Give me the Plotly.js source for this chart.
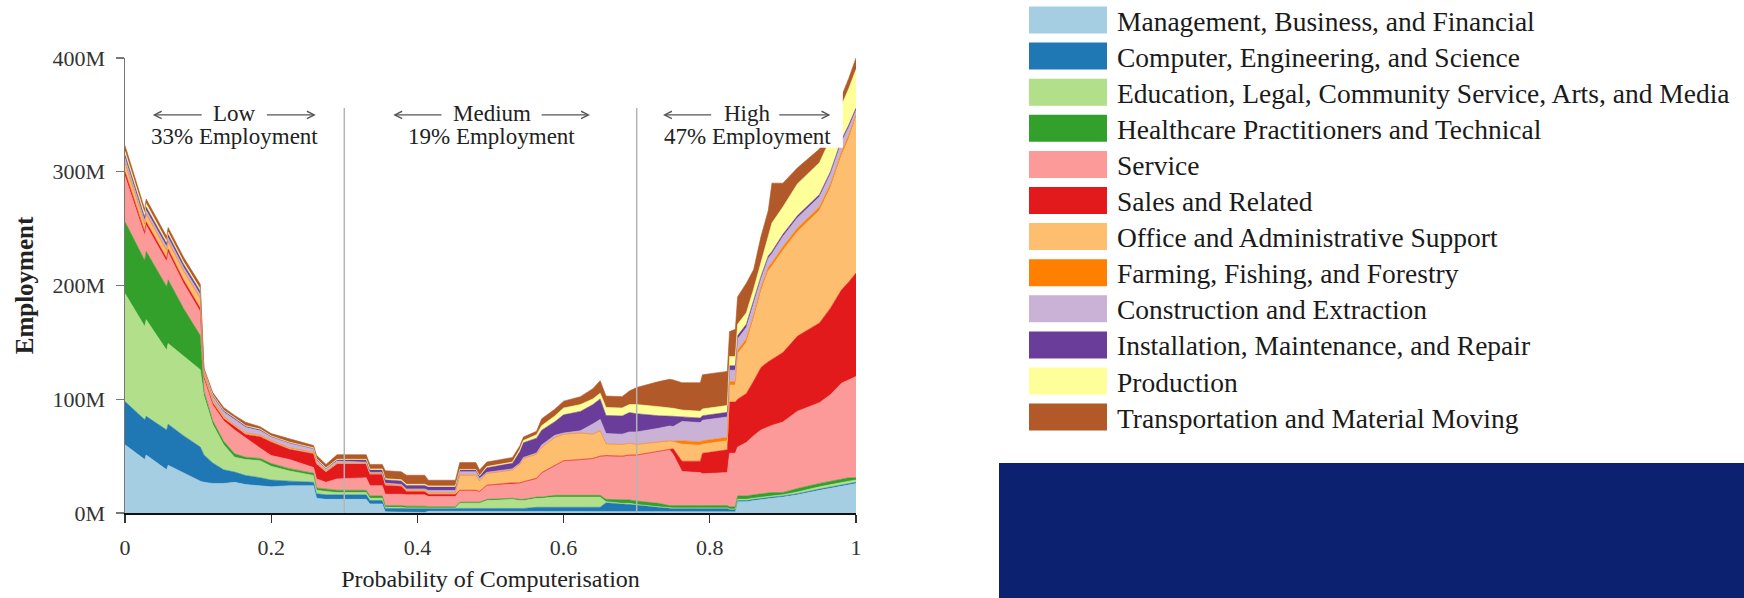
<!DOCTYPE html>
<html><head><meta charset="utf-8">
<script src="https://cdn.plot.ly/plotly-3.0.1.min.js"></script>
<style>html,body{margin:0;padding:0;background:#fff;}#chart{width:1744px;height:598px;}</style>
</head><body><div id="chart"></div>
<script>
// ---------------- DATA ----------------
const categories = [
  "Management, Business, and Financial",
  "Computer, Engineering, and Science",
  "Education, Legal, Community Service, Arts, and Media",
  "Healthcare Practitioners and Technical",
  "Service",
  "Sales and Related",
  "Office and Administrative Support",
  "Farming, Fishing, and Forestry",
  "Construction and Extraction",
  "Installation, Maintenance, and Repair",
  "Production",
  "Transportation and Material Moving"
];
const colors = ["#a6cee3","#1f78b4","#b2df8a","#33a02c","#fb9a99","#e31a1c",
                "#fdbf6f","#ff7f00","#cab2d6","#6a3d9a","#ffff99","#b15928"];

const probability = [0.000,0.027,0.029,0.057,0.059,0.080,0.103,0.108,0.120,0.135,0.150,0.165,0.185,0.200,0.225,0.258,0.262,0.275,0.290,0.330,0.335,0.352,0.356,0.378,0.385,0.410,0.415,0.452,0.458,0.480,0.485,0.495,0.530,0.540,0.545,0.563,0.570,0.588,0.600,0.623,0.640,0.650,0.658,0.680,0.690,0.700,0.730,0.745,0.750,0.762,0.787,0.790,0.824,0.827,0.835,0.838,0.850,0.860,0.870,0.880,0.885,0.900,0.920,0.950,0.965,0.980,0.990,1.000];

// employment in millions for each occupation group (stacked)
const management   = [60,47,51,38,42,35,28,27,26,26,27,25,24,23,24,24,13,12,12,12,8,8,1,1,0.5,0.5,1.5,1.5,1,1,1,1,1,1,1,1,1,1,1,1,1,1,1,1,1,1,1,1,1,1,1,1,1,1,1,10,10,11,12,13,13,14,16,20,22,24,25,26];
const computer     = [38,35,34,35,36,33,30,24,18,12,9,8,7,6,4,3,4,4,4,4,3,3,3,3,3,3,2,2,2.5,2.5,2.5,3,3,3,3,4,4,4,4,4,4,4,8,7,7,6,4,3,3,3,3,3,3,2,2,1,1,1,1,1,1,1,1,1,1,1,1,1];
const education    = [95,82,85,70,71,70,68,52,34,22,13,14,15,12,9,6,3,3,2,2,2,2,1,1,1,1,1,1,5,5,5,7,8,7,7,8,8,9,9,9,9,9,1,0.5,0.5,0.5,0.5,0.5,0.5,0.5,0.5,0.5,0.5,0.5,0.5,1,1,1,1,1,1,1,1.5,2,2,2,2,2];
const healthcare   = [63,58,60,56,56,42,30,4,3,3,3,2,2,2.5,2,2,2,2,2,2,2,2,1.5,1.5,1.5,1.5,1,1,1,1,1,1,1,1,1,1,1,1.5,1.5,1.5,1.5,1.5,2,3,3,3,3,2,2,2,2,2,2,2,2,3,3,3,3,3,3,2,3,3,3,3,3,2];
const service      = [40,22,23,22,24,22,21,11,14,18,21,17,9,7,8,5,8,6,10,11,9,9,10,10,10,10,9,9,10,10,9,12,13,14,15,16,21,26,30,31,32,34,38,38,39,40,45,49,45,30,29,28,29,47,47,43,47,52,56,58,59,62,68,71,76,84,86,89];
const sales        = [4,3,3,3,3,3,3,2,2,2,3,3,10,12,9,12,13,9,13,12,10,10,8,7,3,3,2,2,0.5,0.5,0.5,0.5,0.5,0.5,0.5,0.5,0.5,0.5,0.5,0.5,0.5,0.5,0.5,0.5,0.5,0.5,0.5,0.5,5,9,10,18,20,45,45,42,43,48,55,57,58,61,66,70,76,82,86,91];
const office       = [7,6,6,6,6,7,8,2,2,1.5,1,1,1,1,1,1,0.5,0.5,0.5,0.5,0.5,0.5,0.5,0.5,1,1,1,1,13,13,9,10,11,16,20,21,22,24,23,23,21,22,10,10,10,9,8,7,6,15,14,8,8,15,15,40,45,55,67,80,82,90,92,99,106,118,126,137];
const farming      = [1,1,1,1,1,1,1,0.5,0.5,0.3,0.3,0.3,0.3,0.3,0.3,0.3,0.2,0.2,0.2,0.2,0.2,0.2,0.2,0.2,0.2,0.2,0.3,0.3,0.3,0.3,0.3,0.3,0.3,0.3,0.3,0.3,0.3,0.3,0.3,0.3,0.3,0.3,0.3,0.3,0.3,0.3,0.5,0.5,0.5,3,3,3,3,3,3,3,3,3,3,3,3,3,3,3,3,3,3,2];
const construction = [4,3,3,3,3,3,3,2,3,4,5,5,4,3,4,3,3,2,2,1,1,1,1,1,1,1,2,2,3,3,2,1,1,1,1,1,2,2,1,2,9,10,9,9,10,11,12,13,13,17,17,18,18,10,10,10,10,10,8,8,8,9,9,9,9,9,7,4];
const installation = [3,3,3,3,3,3,3,1,1,1,1,1,1,0.5,0.5,0.5,0.5,0.5,1,2,2,2,3,3,3,3,3,3,1.5,1.5,2,4,5,10,13,13,13,12,16,17,17,18,16,16,17,16,11,9,9,4,4,4,4,4,4,3,3,3,2,2,2,2,2,2,2,2,2,2];
const production   = [3,3,3,2,2,2,2,0.5,0.5,0.5,0.5,0.5,0.5,0.5,0.5,0.5,0.5,0.5,0.5,0.5,1,1,1,1,1,1,1,1,0.5,0.5,0.5,1,1,2,2,3,4,5,6,6,5,5,7,7,7,8,8,7,7,6,6,6,6,8,8,10,10,10,12,18,25,24,28,28,29,30,32,34];
const transport    = [5,4,4,4,4,4,4,1.5,2,2.5,2,3,2,2,3,2,3,3,4,4,4,4,7,7,8,8,5,5,6,6,5,4,4,3,3,3,6,6,6,7,9,11,10,10,12,15,22,25,25,24,25,30,30,22,24,24,26,17,23,22,35,21,14,12,10,8,9,10];

const series = [management, computer, education, healthcare, service, sales,
                office, farming, construction, installation, production, transport];

const xTicks = [0, 0.2, 0.4, 0.6, 0.8, 1];
const xTickText = ["0", "0.2", "0.4", "0.6", "0.8", "1"];
const yTicks = [0, 100, 200, 300, 400];
const yTickText = ["0M", "100M", "200M", "300M", "400M"];

const bands = [
  {label: "Low", share: "33% Employment", center: 0.150, arrowL: [0.038, 0.107], arrowR: [0.192, 0.261]},
  {label: "Medium", share: "19% Employment", center: 0.502, arrowL: [0.367, 0.435], arrowR: [0.568, 0.636]},
  {label: "High", share: "47% Employment", center: 0.851, arrowL: [0.736, 0.804], arrowR: [0.893, 0.965]}
];
const boundaries = [0.3, 0.7];

// ---------------- BUILD ----------------
const FONT = "Liberation Serif, 'Times New Roman', Times, serif";
const W = 1744, H = 598;
const M = {l: 125, r: 888, t: 58, b: 85};
const plotW = W - M.l - M.r, plotH = H - M.t - M.b;
const px2x = p => (p - M.l) / plotW;
const py2y = p => (H - M.b - p) / plotH;

const traces = categories.map((name, i) => ({
  type: "scatter", mode: "lines", x: probability, y: series[i], name: name,
  stackgroup: "one", line: {width: 0.6, color: colors[i]}, fillcolor: colors[i],
  hoverinfo: "skip", showlegend: false
}));

const shapes = [];
const annotations = [];

// white box behind the High label
shapes.push({type: "rect", xref: "x", yref: "y", x0: 0.74, x1: 0.982, y0: 321, y1: 372,
  fillcolor: "#ffffff", line: {width: 0}, layer: "above"});
boundaries.forEach(b => shapes.push({type: "line", xref: "x", yref: "y", x0: b, x1: b, y0: 0, y1: 356,
  line: {color: "#b4b4b4", width: 1.5}, layer: "above"}));

const arrowY = 350;
bands.forEach(bd => {
  annotations.push({xref: "x", yref: "y", x: bd.center, y: arrowY + 1, text: bd.label, showarrow: false,
    font: {family: FONT, size: 23, color: "#222"}});
  annotations.push({xref: "x", yref: "y", x: bd.center, y: 331, text: bd.share, showarrow: false,
    font: {family: FONT, size: 23, color: "#222"}});
  annotations.push({xref: "x", yref: "y", axref: "x", ayref: "y", x: bd.arrowL[0], y: arrowY,
    ax: bd.arrowL[1], ay: arrowY, text: "", showarrow: true, arrowhead: 5, arrowsize: 1.1,
    arrowwidth: 1.3, arrowcolor: "#555"});
  annotations.push({xref: "x", yref: "y", axref: "x", ayref: "y", x: bd.arrowR[1], y: arrowY,
    ax: bd.arrowR[0], ay: arrowY, text: "", showarrow: true, arrowhead: 5, arrowsize: 1.1,
    arrowwidth: 1.3, arrowcolor: "#555"});
});

// legend (swatches + labels)
const legCenter0 = 20, legStep = 36.1, swH = 27, swX0 = 1029, swX1 = 1107, txtX = 1115;
categories.forEach((name, i) => {
  const c = legCenter0 + i * legStep;
  shapes.push({type: "rect", xref: "paper", yref: "paper",
    x0: px2x(swX0), x1: px2x(swX1), y0: py2y(c + swH / 2), y1: py2y(c - swH / 2),
    fillcolor: colors[i], line: {width: 0}});
  annotations.push({xref: "paper", yref: "paper", x: px2x(txtX), y: py2y(c + 1),
    xanchor: "left", yanchor: "middle", text: name, showarrow: false,
    font: {family: FONT, size: 27.5, color: "#1a1a1a"}});
});

// navy block
shapes.push({type: "rect", xref: "paper", yref: "paper",
  x0: px2x(999), x1: px2x(1760), y0: py2y(610), y1: py2y(463),
  fillcolor: "#0c2170", line: {width: 0}});

const layout = {
  width: W, height: H, margin: M, paper_bgcolor: "#fff", plot_bgcolor: "#fff",
  showlegend: false,
  font: {family: FONT, color: "#222"},
  xaxis: {range: [0, 1], tickvals: xTicks, ticktext: xTickText, ticks: "outside", ticklen: 8,
    tickwidth: 1.3, tickcolor: "#333", showline: true, linecolor: "#111", linewidth: 2,
    showgrid: false, zeroline: false, ticklabelstandoff: 6,
    tickfont: {family: FONT, size: 22, color: "#333"},
    title: {text: "Probability of Computerisation", font: {family: FONT, size: 24, color: "#222"}, standoff: 11}},
  yaxis: {range: [0, 400], tickvals: yTicks, ticktext: yTickText, ticks: "outside", ticklen: 8,
    tickwidth: 1.3, tickcolor: "#777", showline: true, linecolor: "#777", linewidth: 1.5,
    showgrid: false, zeroline: false, ticklabelstandoff: 6,
    tickfont: {family: FONT, size: 22, color: "#333"},
    title: {text: "<b>Employment</b>", font: {family: FONT, size: 25, color: "#222"}, standoff: 12}},
  shapes: shapes,
  annotations: annotations
};

Plotly.newPlot("chart", traces, layout, {staticPlot: true, displayModeBar: false});
</script>
</body></html>
